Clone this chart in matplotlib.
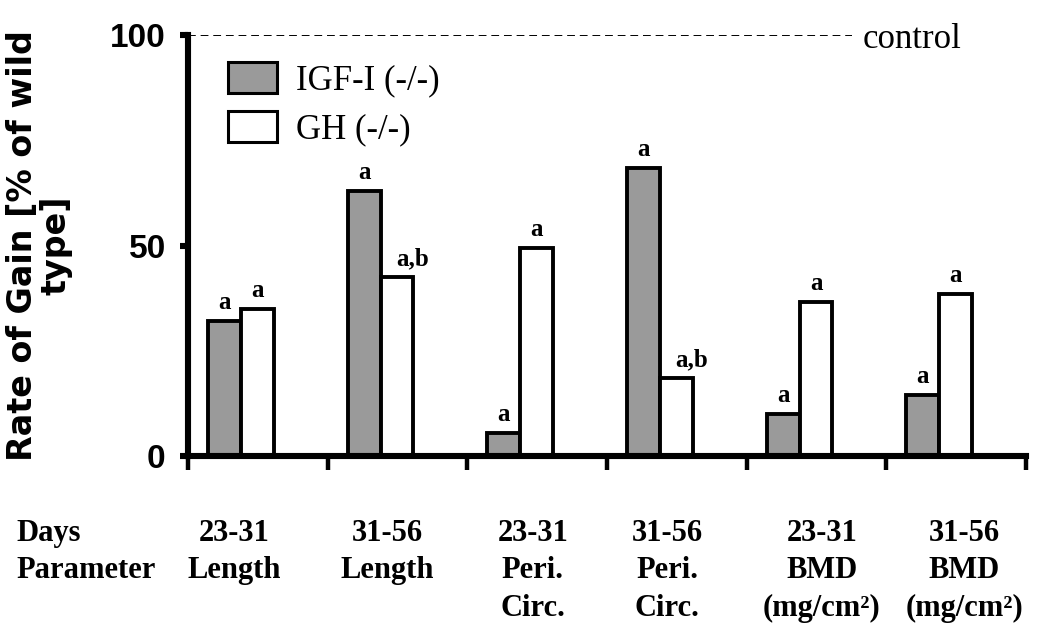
import matplotlib
matplotlib.use('Agg')
import matplotlib.pyplot as plt
import matplotlib.transforms as mtransforms
from matplotlib.patches import Patch
import numpy as np

# ---------- data ----------
days = ['23-31', '31-56', '23-31', '31-56', '23-31', '31-56']
param_line1 = ['Length', 'Length', 'Peri.', 'Peri.', 'BMD', 'BMD']
param_line2 = ['', '', 'Circ.', 'Circ.', '(mg/cm²)', '(mg/cm²)']
igf = [32, 63, 5.5, 68.5, 10, 14.5]
gh = [35, 42.5, 49.5, 18.5, 36.5, 38.5]
igf_marks = ['a', 'a', 'a', 'a', 'a', 'a']
gh_marks = ['a', 'a,b', 'a', 'a,b', 'a', 'a']
control_value = 100
series_names = ['IGF-I (-/-)', 'GH (-/-)']

GREY = '#9a9a9a'
SERIF = 'Liberation Serif'

fig = plt.figure(figsize=(10.5, 6.4), dpi=100)
ax = fig.add_axes([0.179, 0.2875, 0.798, 0.6575])

x = np.arange(len(days))
off = -0.12
w = 0.235
ax.bar(x + off - w / 2, igf, w, color=GREY, edgecolor='black', linewidth=2.8)
ax.bar(x + off + w / 2, gh, w, color='white', edgecolor='black', linewidth=2.8)

# significance letters ("a,b" sits a bit to the right of its bar)
for i in range(len(days)):
    ax.annotate(igf_marks[i], (x[i] + off - w / 2, igf[i]), xytext=(0, 5),
                textcoords='offset points', ha='center', va='bottom',
                fontsize=18, fontweight='bold', family=SERIF)
    dx = 11 if ',' in gh_marks[i] else 0
    ax.annotate(gh_marks[i], (x[i] + off + w / 2, gh[i]), xytext=(dx, 5),
                textcoords='offset points', ha='center', va='bottom',
                fontsize=18, fontweight='bold', family=SERIF)

# control line
ax.axhline(control_value, xmin=0, xmax=0.793, color='black', lw=1.4,
           ls=(0, (4, 2.5)))
ax.annotate('control', (0.805, control_value), xytext=(0, -3),
            textcoords='offset points',
            xycoords=mtransforms.blended_transform_factory(ax.transAxes, ax.transData),
            ha='left', va='center', fontsize=25, family=SERIF)

# axes
ax.set_xlim(-0.5, 5.5)
ax.set_ylim(0, 100)
for s in ['top', 'right']:
    ax.spines[s].set_visible(False)
for s in ['left', 'bottom']:
    ax.spines[s].set_linewidth(4.4)
ax.set_yticks([0, 50, 100])
ax.set_xticks(np.arange(-0.5, 6, 1))
ax.tick_params(axis='y', length=6, width=4.4, pad=10, labelsize=24)
ax.tick_params(axis='x', length=10, width=3.2, labelbottom=False)
for lbl in ax.get_yticklabels():
    lbl.set_family('Liberation Sans')
    lbl.set_fontweight('bold')

ax.set_ylabel('Rate of Gain [% of wild\ntype]', fontsize=24, fontweight='bold',
              family='DejaVu Sans', linespacing=1.0)
ax.yaxis.set_label_coords(-0.138, 0.5)

handles = [Patch(facecolor=GREY, edgecolor='black', lw=2.2, label=series_names[0]),
           Patch(facecolor='white', edgecolor='black', lw=2.2, label=series_names[1])]
ax.legend(handles=handles, loc='upper left', bbox_to_anchor=(0.048, 0.936),
          frameon=False, prop={'family': SERIF, 'size': 25},
          handlelength=1.4, handleheight=1.0, handletextpad=0.55,
          labelspacing=0.38, borderpad=0, borderaxespad=0)

# table under the axis
col_x = [-0.17, 0.93, 1.97, 2.93, 4.04, 5.06]
rows_y = [0.167, 0.108, 0.05]
tr = mtransforms.blended_transform_factory(ax.transData, fig.transFigure)
txt = dict(fontsize=22, fontweight='bold', family=SERIF, va='center')
fig.text(0.016, rows_y[0], 'Days', ha='left', **txt)
fig.text(0.016, rows_y[1], 'Parameter', ha='left', **txt)
for i in range(len(days)):
    ax.text(col_x[i], rows_y[0], days[i], transform=tr, ha='center', **txt)
    ax.text(col_x[i], rows_y[1], param_line1[i], transform=tr, ha='center', **txt)
    if param_line2[i]:
        ax.text(col_x[i], rows_y[2], param_line2[i], transform=tr, ha='center', **txt)

fig.savefig('out.png', dpi=100)
